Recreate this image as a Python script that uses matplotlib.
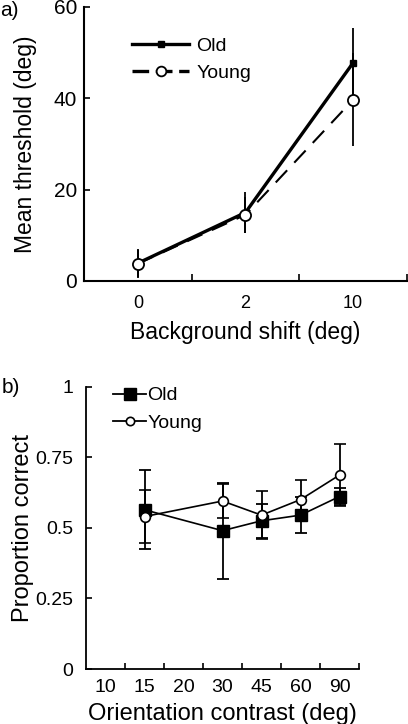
import matplotlib
matplotlib.use("Agg")
import matplotlib.pyplot as plt
from matplotlib.lines import Line2D
import numpy as np

plt.rcParams['font.family'] = ['Liberation Sans', 'DejaVu Sans']

# Panel a data
a_categories = ["0", "2", "10"]
a_old = [3.9, 15.0, 47.8]
a_old_err = [3.2, 4.4, 7.7]
a_young = [3.8, 14.5, 39.7]
a_young_err = [3.0, 4.0, 10.2]
a_yticks = [0, 20, 40, 60]

# Panel b data
b_categories = ["10", "15", "20", "30", "45", "60", "90"]
b_pos = [1, 3, 4, 5, 6]  # index into b_categories for measured conditions
b_old = [0.564, 0.490, 0.525, 0.545, 0.611]
b_old_err = [0.140, 0.170, 0.060, 0.065, 0.030]
b_young = [0.540, 0.595, 0.545, 0.600, 0.687]
b_young_err = [0.095, 0.060, 0.085, 0.070, 0.110]
b_yticks = [0, 0.25, 0.5, 0.75, 1]
b_yticklabels = ["0", "0.25", "0.5", "0.75", "1"]

fig = plt.figure(figsize=(4.08, 7.24), dpi=100)

# ---------- Panel a ----------
ax1 = fig.add_axes([84/408, 1-281/724, (407-84)/408, (281-7)/724])
xa = np.arange(len(a_categories))
ax1.errorbar(xa, a_old, yerr=a_old_err, color='black', lw=2.4, marker='s',
             ms=5, mfc='black', mec='black', capsize=0, elinewidth=1.3,
             zorder=3)
ax1.errorbar(xa, a_young, yerr=a_young_err, color='black', lw=1.5, ls=(0, (8, 5)),
             marker='o', ms=8, mfc='white', mec='black', mew=1.3, capsize=0,
             elinewidth=1.3, zorder=4)
ax1.set_xlim(-0.5, 2.5)
ax1.set_ylim(0, 60)
ax1.set_yticks(a_yticks)
ax1.set_xticks(xa)
ax1.set_xticklabels(a_categories)
ax1.set_xticks([0.5, 1.5, 2.5], minor=True)
ax1.tick_params(axis='x', which='major', length=0, labelsize=13, pad=10)
ax1.tick_params(axis='x', which='minor', direction='in', length=5, width=1.2)
ax1.tick_params(axis='y', direction='in', length=4, width=1.2, labelsize=15, pad=5)
for s in ['top', 'right']:
    ax1.spines[s].set_visible(False)
for s in ['left', 'bottom']:
    ax1.spines[s].set_linewidth(1.5)
ax1.set_xlabel('Background shift (deg)', fontsize=16.5)
ax1.xaxis.set_label_coords(0.5, -0.145)
ax1.set_ylabel('Mean threshold (deg)', fontsize=16.5)
ax1.yaxis.set_label_coords(-0.145, 0.5)
h_old_a = Line2D([], [], color='black', lw=2.4, marker='s', ms=5, mfc='black')
h_young_a = Line2D([], [], color='black', lw=2.4, ls=(0, (5, 2)), marker='o', ms=7,
                   mfc='white', mew=1.3)
ax1.legend([h_old_a, h_young_a], ['Old', 'Young'], loc='upper left',
           bbox_to_anchor=(0.15, 0.89), frameon=False, fontsize=14,
           handlelength=2.9, handletextpad=0.4, labelspacing=0.5,
           borderaxespad=0, borderpad=0)
fig.text(0.0, 0.999, 'a)', fontsize=15, va='top', ha='left')

# ---------- Panel b ----------
ax2 = fig.add_axes([86/408, 1-669/724, (359-86)/408, (669-386.7)/724])
xb = np.array(b_pos)
ax2.errorbar(xb, b_old, yerr=b_old_err, color='black', lw=1.2, marker='s',
             ms=8.5, mfc='black', mec='black', capsize=4, elinewidth=1.3,
             capthick=1.3, zorder=3)
ax2.errorbar(xb, b_young, yerr=b_young_err, color='black', lw=1.2,
             marker='o', ms=7, mfc='white', mec='black', mew=1.2, capsize=4,
             elinewidth=1.3, capthick=1.3, zorder=4)
ax2.set_xlim(-0.5, 6.5)
ax2.set_ylim(0, 1)
ax2.set_yticks(b_yticks)
ax2.set_yticklabels(b_yticklabels)
ax2.set_xticks(np.arange(len(b_categories)))
ax2.set_xticklabels(b_categories)
ax2.set_xticks(np.arange(len(b_categories)) + 0.5, minor=True)
ax2.tick_params(axis='x', which='major', length=0, labelsize=14, pad=7)
ax2.tick_params(axis='x', which='minor', direction='in', length=4, width=1.2)
ax2.tick_params(axis='y', direction='in', length=4, width=1.2, labelsize=14, pad=9)
for s in ['top', 'right']:
    ax2.spines[s].set_visible(False)
for s in ['left', 'bottom']:
    ax2.spines[s].set_linewidth(1.3)
ax2.set_xlabel('Orientation contrast (deg)', fontsize=17)
ax2.xaxis.set_label_coords(0.5, -0.12)
ax2.set_ylabel('Proportion correct', fontsize=17)
ax2.yaxis.set_label_coords(-0.19, 0.5)
h_old_b = Line2D([], [], color='black', lw=1.3, marker='s', ms=8.5, mfc='black')
h_young_b = Line2D([], [], color='black', lw=1.3, marker='o', ms=6,
                   mfc='white', mew=1.2)
ax2.legend([h_old_b, h_young_b], ['Old', 'Young'], loc='upper left',
           bbox_to_anchor=(0.1, 1.0), frameon=False, fontsize=14,
           handlelength=1.7, handletextpad=0.05, labelspacing=0.5,
           borderaxespad=0, borderpad=0)
fig.text(0.005, 1-378/724, 'b)', fontsize=15, va='top', ha='left')

fig.savefig('out.png', dpi=100)
